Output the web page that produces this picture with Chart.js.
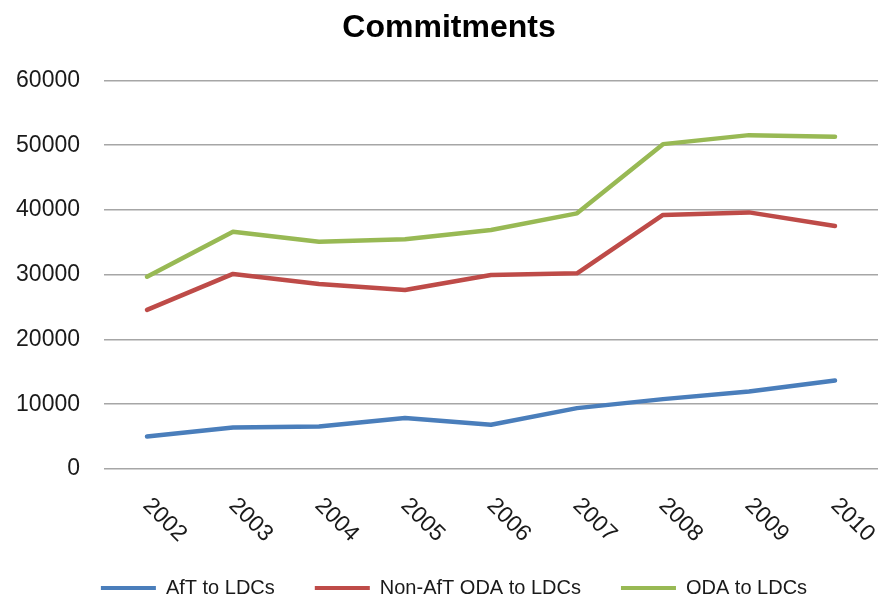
<!DOCTYPE html>
<html>
<head>
<meta charset="utf-8">
<script src="https://cdn.jsdelivr.net/npm/chart.js@4/dist/chart.umd.min.js"></script>
<style>
  html, body { margin: 0; padding: 0; background: #ffffff; }
  #wrap { width: 880px; height: 597px; }
</style>
</head>
<body>
<div id="wrap"><canvas id="c" width="880" height="597"></canvas></div>
<script>
const years = ['2002','2003','2004','2005','2006','2007','2008','2009','2010'];
const aftToLDCs = [5030, 6420, 6570, 7860, 6830, 9400, 10790, 11970, 13670];
const nonAftOdaToLDCs = [24570, 30120, 28580, 27650, 29960, 30220, 39220, 39620, 37520];
const odaToLDCs = [29700, 36640, 35100, 35460, 36900, 39470, 50160, 51550, 51290];
const yTicks = [0, 10000, 20000, 30000, 40000, 50000, 60000];

const FONT = "'Liberation Sans', Arial, sans-serif";

const rotatedXLabels = {
  id: 'rotatedXLabels',
  afterDraw(chart) {
    const xs = chart.scales.x;
    const ctx = chart.ctx;
    ctx.save();
    ctx.font = "23px " + FONT;
    ctx.fillStyle = '#1a1a1a';
    ctx.textAlign = 'left';
    ctx.textBaseline = 'middle';
    years.forEach((lab, i) => {
      const x = xs.getPixelForTick(i);
      ctx.save();
      ctx.translate(x - 0.5, xs.top + 33);
      ctx.rotate(Math.PI / 4);
      ctx.fillText(lab, 0, 0);
      ctx.restore();
    });
    ctx.restore();
  }
};

// nudge title and legend boxes to match the reference placement
const boxNudge = {
  id: 'boxNudge',
  afterLayout(chart) {
    const lg = chart.legend;
    if (lg) { lg.left += 15; lg.right += 15; lg.top += 11; lg.bottom += 11; }
    const tb = chart.titleBlock;
    if (tb) { tb.left += 10; tb.right += 10; }
  }
};

new Chart(document.getElementById('c'), {
  type: 'line',
  data: {
    labels: years,
    datasets: [
      { label: 'AfT to LDCs', data: aftToLDCs, borderColor: '#4a7ebb', backgroundColor: '#4a7ebb' },
      { label: 'Non-AfT ODA to LDCs', data: nonAftOdaToLDCs, borderColor: '#be4b48', backgroundColor: '#be4b48' },
      { label: 'ODA to LDCs', data: odaToLDCs, borderColor: '#98b954', backgroundColor: '#98b954' }
    ]
  },
  options: {
    responsive: false,
    animation: false,
    devicePixelRatio: 1,
    layout: { padding: { left: 0, right: 2, top: 0, bottom: 0 } },
    elements: {
      line: { borderWidth: 4.5, tension: 0, borderCapStyle: 'round', borderJoinStyle: 'round' },
      point: { radius: 0, hoverRadius: 0 }
    },
    plugins: {
      title: {
        display: true,
        text: 'Commitments',
        color: '#000000',
        font: { family: FONT, size: 32, weight: 'bold' },
        padding: { top: 9, bottom: 33 }
      },
      legend: {
        position: 'bottom',
        labels: {
          color: '#1a1a1a',
          font: { family: FONT, size: 20 },
          boxWidth: 55,
          boxHeight: 4,
          padding: 40,
          generateLabels(chart) {
            return Chart.defaults.plugins.legend.labels.generateLabels(chart).map(l => {
              const ds = chart.data.datasets[l.datasetIndex];
              l.fillStyle = ds.borderColor;
              l.strokeStyle = ds.borderColor;
              l.lineWidth = 0;
              return l;
            });
          }
        }
      },
      tooltip: { enabled: false }
    },
    scales: {
      x: {
        type: 'category',
        offset: true,
        grid: { display: false },
        border: { display: false },
        ticks: { display: false },
        afterFit(scale) { scale.height = 58; }
      },
      y: {
        min: 0,
        max: 60000,
        afterBuildTicks(scale) { scale.ticks = yTicks.map(v => ({ value: v })); },
        grid: { color: '#a6a6a6', lineWidth: 1.5, drawTicks: false },
        border: { display: false },
        ticks: {
          padding: 24,
          color: '#1a1a1a',
          font: { family: FONT, size: 23 },
          callback: v => String(v)
        },
        afterFit(scale) { scale.width = 104; }
      }
    }
  },
  plugins: [rotatedXLabels, boxNudge]
});
</script>
</body>
</html>
